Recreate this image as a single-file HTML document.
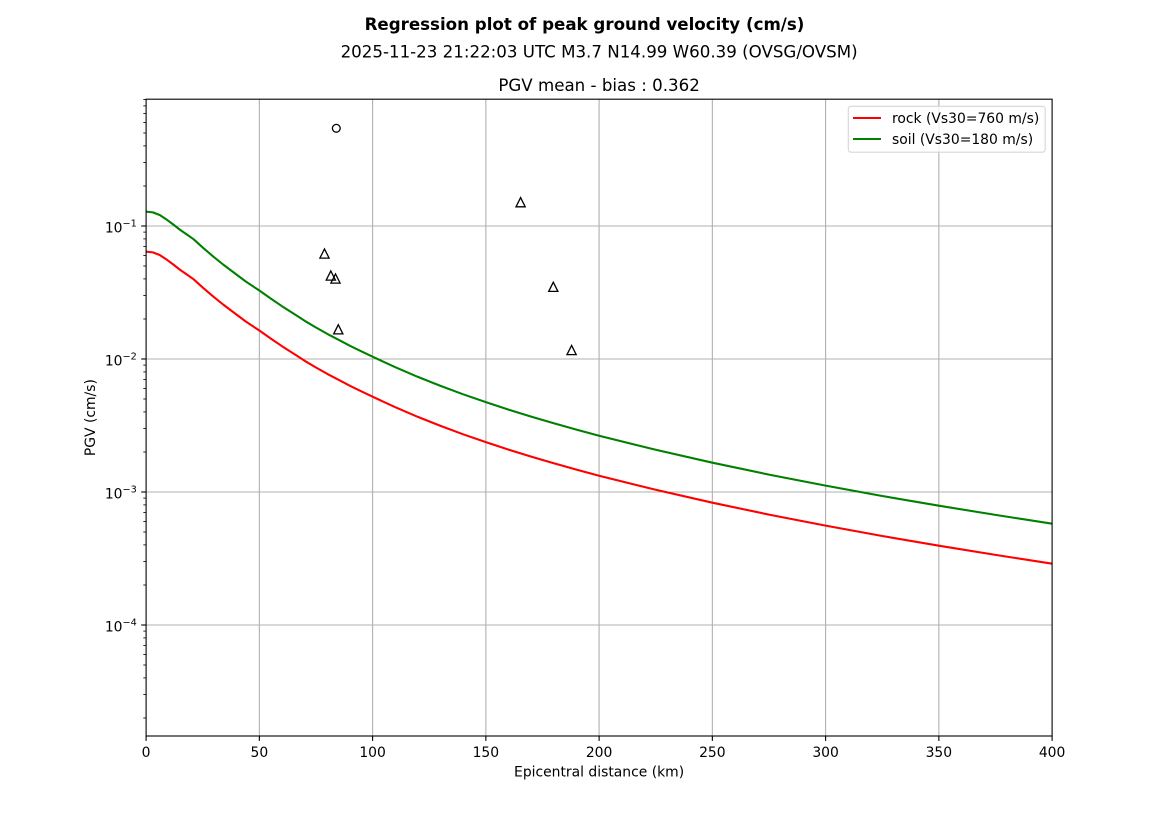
<!DOCTYPE html>
<html>
<head>
<meta charset="utf-8">
<style>
html,body{margin:0;padding:0;background:#fff;}
svg{display:block;}
text{font-family:"DejaVu Sans","Liberation Sans",sans-serif;fill:#000;}
</style>
</head>
<body>
<svg width="1169" height="827" viewBox="0 0 1169 827" xmlns="http://www.w3.org/2000/svg">
<rect x="0" y="0" width="1169" height="827" fill="#fff"/>

<text x="584.5" y="30" font-size="16.67" font-weight="bold" text-anchor="middle">Regression plot of peak ground velocity (cm/s)</text>
<text x="599.1" y="57.5" font-size="16.67" text-anchor="middle">2025-11-23 21:22:03 UTC M3.7 N14.99 W60.39 (OVSG/OVSM)</text>
<text x="599.1" y="91" font-size="16.67" text-anchor="middle">PGV mean - bias : 0.362</text>

<g stroke="#b0b0b0" stroke-width="1.1" fill="none">
<line x1="259.35" y1="99.2" x2="259.35" y2="736"/>
<line x1="372.6" y1="99.2" x2="372.6" y2="736"/>
<line x1="485.85" y1="99.2" x2="485.85" y2="736"/>
<line x1="599.1" y1="99.2" x2="599.1" y2="736"/>
<line x1="712.35" y1="99.2" x2="712.35" y2="736"/>
<line x1="825.6" y1="99.2" x2="825.6" y2="736"/>
<line x1="938.85" y1="99.2" x2="938.85" y2="736"/>
<line x1="146.1" y1="226" x2="1052.1" y2="226"/>
<line x1="146.1" y1="359" x2="1052.1" y2="359"/>
<line x1="146.1" y1="492" x2="1052.1" y2="492"/>
<line x1="146.1" y1="625" x2="1052.1" y2="625"/>
</g>

<g transform="translate(146.1,0) scale(2.265,1)" fill="none" stroke-linejoin="round">
<polyline vector-effect="non-scaling-stroke" stroke="#ff0000" stroke-width="2.08" points="0,251.6 3,252.4 6,255 9.2,259.8 12,264.5 15.1,270 18,274.5 21,279.3 25.4,288.3 29.8,296.8 34,304.5 38.7,312.5 44,321.5 50,330.5 55,338.5 60,346.2 66.6,355.7 70,360.8 75,367.5 80,373.9 85,379.8 90,385.8 95,391.3 100,396.7 110,407.2 120,416.9 130,425.9 140,434.3 150,442.1 160,449.6 170,456.6 180,463.3 190,469.6 200,475.7 225,489.8 250,502.7 275,514.6 300,525.6 325,536 350,545.7 375,554.9 400,563.7"/>
<polyline vector-effect="non-scaling-stroke" stroke="#008000" stroke-width="2.08" points="0,211.6 3,212.4 6,215 9.2,219.8 12,224.5 15.1,230 18,234.5 21,239.3 25.4,248.3 29.8,256.8 34,264.5 38.7,272.5 44,281.5 50,290.5 55,298.5 60,306.2 66.6,315.7 70,320.8 75,327.5 80,333.9 85,339.8 90,345.8 95,351.3 100,356.7 110,367.2 120,376.9 130,385.9 140,394.3 150,402.1 160,409.6 170,416.6 180,423.3 190,429.6 200,435.7 225,449.8 250,462.7 275,474.6 300,485.6 325,496 350,505.7 375,514.9 400,523.7"/>
</g>

<g fill="none" stroke="#000" stroke-width="1.3">
<circle cx="336.3" cy="128.3" r="3.9"/>
<polygon points="324.5,248.9 319.9,258.1 329.1,258.1"/>
<polygon points="330.8,270.9 326.2,280.1 335.4,280.1"/>
<polygon points="335.5,273.9 330.9,283.1 340.1,283.1"/>
<polygon points="338.3,324.7 333.7,333.9 342.9,333.9"/>
<polygon points="520.6,197.6 516,206.8 525.2,206.8"/>
<polygon points="553.3,282.2 548.7,291.4 557.9,291.4"/>
<polygon points="571.6,345.4 567,354.6 576.2,354.6"/>
</g>

<rect x="146.1" y="99.2" width="906" height="636.8" fill="none" stroke="#000" stroke-width="1.1"/>

<g stroke="#000" stroke-width="1.1">
<line x1="146.1" y1="736" x2="146.1" y2="740.9"/>
<line x1="259.35" y1="736" x2="259.35" y2="740.9"/>
<line x1="372.6" y1="736" x2="372.6" y2="740.9"/>
<line x1="485.85" y1="736" x2="485.85" y2="740.9"/>
<line x1="599.1" y1="736" x2="599.1" y2="740.9"/>
<line x1="712.35" y1="736" x2="712.35" y2="740.9"/>
<line x1="825.6" y1="736" x2="825.6" y2="740.9"/>
<line x1="938.85" y1="736" x2="938.85" y2="740.9"/>
<line x1="1052.1" y1="736" x2="1052.1" y2="740.9"/>
</g>
<g font-size="13.9" text-anchor="middle">
<text x="146.1" y="757">0</text>
<text x="259.35" y="757">50</text>
<text x="372.6" y="757">100</text>
<text x="485.85" y="757">150</text>
<text x="599.1" y="757">200</text>
<text x="712.35" y="757">250</text>
<text x="825.6" y="757">300</text>
<text x="938.85" y="757">350</text>
<text x="1052.1" y="757">400</text>
</g>
<text x="599.1" y="776.5" font-size="13.9" text-anchor="middle">Epicentral distance (km)</text>

<g stroke="#000" stroke-width="1.1">
<line x1="141.2" y1="226" x2="146.1" y2="226"/>
<line x1="141.2" y1="359" x2="146.1" y2="359"/>
<line x1="141.2" y1="492" x2="146.1" y2="492"/>
<line x1="141.2" y1="625" x2="146.1" y2="625"/>
</g>
<g stroke="#000" stroke-width="0.83">
<line x1="143.3" y1="186" x2="146.1" y2="186"/>
<line x1="143.3" y1="162.5" x2="146.1" y2="162.5"/>
<line x1="143.3" y1="145.9" x2="146.1" y2="145.9"/>
<line x1="143.3" y1="133" x2="146.1" y2="133"/>
<line x1="143.3" y1="122.5" x2="146.1" y2="122.5"/>
<line x1="143.3" y1="113.6" x2="146.1" y2="113.6"/>
<line x1="143.3" y1="105.9" x2="146.1" y2="105.9"/>
<line x1="143.3" y1="99.6" x2="146.1" y2="99.6"/>
<line x1="143.3" y1="319" x2="146.1" y2="319"/>
<line x1="143.3" y1="295.5" x2="146.1" y2="295.5"/>
<line x1="143.3" y1="278.9" x2="146.1" y2="278.9"/>
<line x1="143.3" y1="266" x2="146.1" y2="266"/>
<line x1="143.3" y1="255.5" x2="146.1" y2="255.5"/>
<line x1="143.3" y1="246.6" x2="146.1" y2="246.6"/>
<line x1="143.3" y1="238.9" x2="146.1" y2="238.9"/>
<line x1="143.3" y1="232.1" x2="146.1" y2="232.1"/>
<line x1="143.3" y1="452" x2="146.1" y2="452"/>
<line x1="143.3" y1="428.5" x2="146.1" y2="428.5"/>
<line x1="143.3" y1="411.9" x2="146.1" y2="411.9"/>
<line x1="143.3" y1="399" x2="146.1" y2="399"/>
<line x1="143.3" y1="388.5" x2="146.1" y2="388.5"/>
<line x1="143.3" y1="379.6" x2="146.1" y2="379.6"/>
<line x1="143.3" y1="371.9" x2="146.1" y2="371.9"/>
<line x1="143.3" y1="365.1" x2="146.1" y2="365.1"/>
<line x1="143.3" y1="585" x2="146.1" y2="585"/>
<line x1="143.3" y1="561.5" x2="146.1" y2="561.5"/>
<line x1="143.3" y1="544.9" x2="146.1" y2="544.9"/>
<line x1="143.3" y1="532" x2="146.1" y2="532"/>
<line x1="143.3" y1="521.5" x2="146.1" y2="521.5"/>
<line x1="143.3" y1="512.6" x2="146.1" y2="512.6"/>
<line x1="143.3" y1="504.9" x2="146.1" y2="504.9"/>
<line x1="143.3" y1="498.1" x2="146.1" y2="498.1"/>
<line x1="143.3" y1="718" x2="146.1" y2="718"/>
<line x1="143.3" y1="694.5" x2="146.1" y2="694.5"/>
<line x1="143.3" y1="677.9" x2="146.1" y2="677.9"/>
<line x1="143.3" y1="665" x2="146.1" y2="665"/>
<line x1="143.3" y1="654.5" x2="146.1" y2="654.5"/>
<line x1="143.3" y1="645.6" x2="146.1" y2="645.6"/>
<line x1="143.3" y1="637.9" x2="146.1" y2="637.9"/>
<line x1="143.3" y1="631.1" x2="146.1" y2="631.1"/>
</g>
<g font-size="13.9" text-anchor="end">
<text x="136.8" y="232.5">10<tspan font-size="9.7" dy="-6">−1</tspan></text>
<text x="136.8" y="365.5">10<tspan font-size="9.7" dy="-6">−2</tspan></text>
<text x="136.8" y="498.5">10<tspan font-size="9.7" dy="-6">−3</tspan></text>
<text x="136.8" y="631.5">10<tspan font-size="9.7" dy="-6">−4</tspan></text>
</g>
<text transform="translate(95,417.6) rotate(-90)" font-size="13.9" text-anchor="middle">PGV (cm/s)</text>

<rect x="848.3" y="106.3" width="196.9" height="45.9" rx="2.8" ry="2.8" fill="#fff" fill-opacity="0.8" stroke="#d6d6d6" stroke-width="1.1"/>
<line x1="853" y1="118" x2="881" y2="118" stroke="#ff0000" stroke-width="2.08"/>
<line x1="853" y1="139" x2="881" y2="139" stroke="#008000" stroke-width="2.08"/>
<text x="892" y="123" font-size="13.9">rock (Vs30=760 m/s)</text>
<text x="892" y="144" font-size="13.9">soil (Vs30=180 m/s)</text>
</svg>
</body>
</html>
